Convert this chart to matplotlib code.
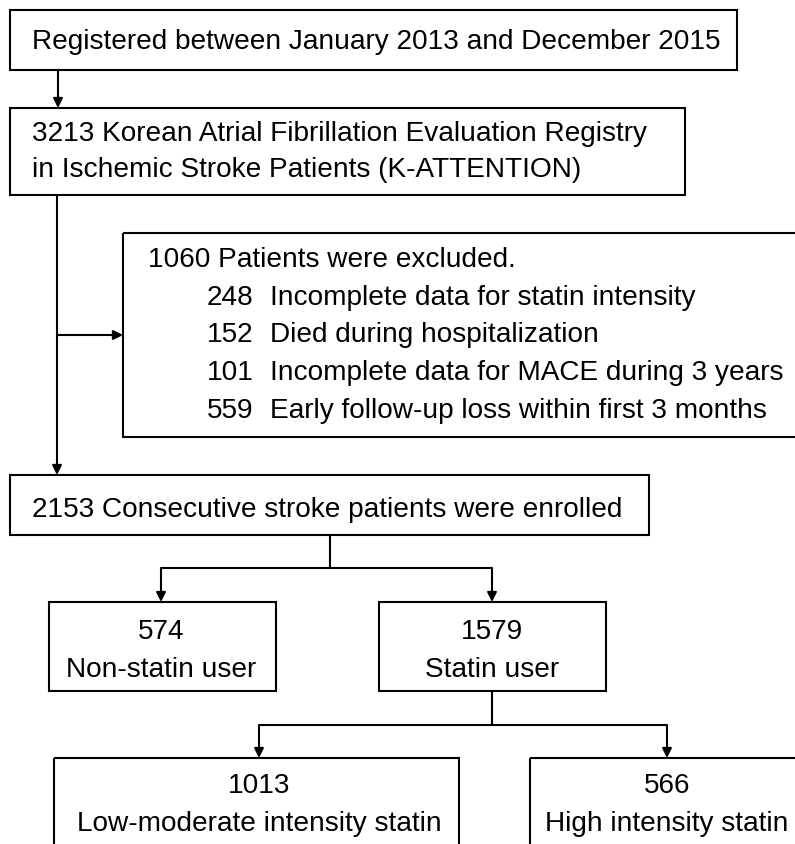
import matplotlib.pyplot as plt
from matplotlib.patches import Rectangle

plt.rcParams['font.family'] = ['Liberation Sans', 'DejaVu Sans']

# Texts of the flow chart
registered_text = 'Registered between January 2013 and December 2015'
registry_lines = ['3213 Korean Atrial Fibrillation Evaluation Registry',
                  'in Ischemic Stroke Patients (K-ATTENTION)']
excluded_title = '1060 Patients were excluded.'
excluded_counts = ['248', '152', '101', '559']
excluded_reasons = ['Incomplete data for statin intensity',
                    'Died during hospitalization',
                    'Incomplete data for MACE during 3 years',
                    'Early follow-up loss within first 3 months']
enrolled_text = '2153 Consecutive stroke patients were enrolled'
group_counts = ['574', '1579', '1013', '566']
group_labels = ['Non-statin user', 'Statin user',
                'Low-moderate intensity statin', 'High intensity statin']

W, H = 795, 844
fig = plt.figure(figsize=(W / 100, H / 100), dpi=100)
ax = fig.add_axes([0, 0, 1, 1])
ax.set_xlim(0, W)
ax.set_ylim(H, 0)
ax.axis('off')

LW = 1.5
FS = 20.2


def box(x0, y0, x1, y1):
    ax.add_patch(Rectangle((x0, y0), x1 - x0, y1 - y0, fill=False,
                           edgecolor='black', lw=LW))


def line(xs, ys):
    ax.plot(xs, ys, color='black', lw=LW, solid_capstyle='butt')


def arrow(x0, y0, x1, y1):
    ax.annotate('', xy=(x1, y1), xytext=(x0, y0),
                arrowprops=dict(arrowstyle='-|>', color='black', lw=LW,
                                mutation_scale=14, shrinkA=0, shrinkB=0))


# boxes
box(10, 10, 737, 70)
box(10, 108, 685, 195)
box(123, 233, 805, 437)
box(10, 475, 649, 535)
box(49, 602, 276, 691)
box(379, 602, 606, 691)
box(54, 758, 459, 860)
box(530, 758, 805, 860)

# connectors
arrow(58, 70, 58, 108)
line([57, 57], [195, 440])
arrow(57, 335, 123, 335)
arrow(57, 440, 57, 475)
line([330, 330], [535, 568])
line([161, 492], [568, 568])
arrow(161, 568, 161, 602)
arrow(492, 568, 492, 602)
line([492, 492], [691, 725])
line([259, 667], [725, 725])
arrow(259, 725, 259, 758)
arrow(667, 725, 667, 758)

# texts
ax.text(32, 49, registered_text, fontsize=FS, va='baseline')
for i, t in enumerate(registry_lines):
    ax.text(32, 141 + 36 * i, t, fontsize=FS, va='baseline')
ax.text(148, 267, excluded_title, fontsize=FS, va='baseline')
for i, (n, r) in enumerate(zip(excluded_counts, excluded_reasons)):
    y = 305 + 37.5 * i
    ax.text(207, y, n, fontsize=FS, va='baseline')
    ax.text(270, y, r, fontsize=FS, va='baseline')
ax.text(32, 517, enrolled_text, fontsize=FS, va='baseline')

centers = [161, 492, 259, 667]
count_y = [639, 639, 793, 793]
for cx, cy, n, lab in zip(centers, count_y, group_counts, group_labels):
    ax.text(cx, cy, n, fontsize=FS, ha='center', va='baseline')
    ax.text(cx, cy + 38, lab, fontsize=FS, ha='center', va='baseline')

fig.savefig('out.png', dpi=100)
